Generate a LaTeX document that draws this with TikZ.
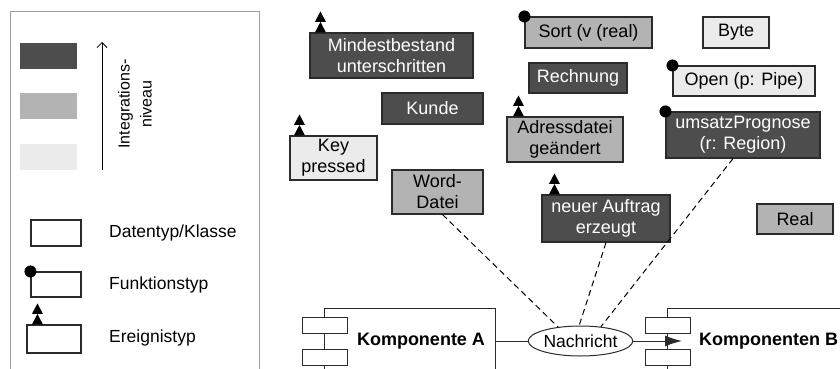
\documentclass[tikz,border=0pt]{standalone}
\usepackage{fontspec}
\setmainfont{Liberation Sans}
\usetikzlibrary{shapes.geometric,arrows.meta,calc}
\definecolor{darkfill}{HTML}{4D4D4D}
\definecolor{midfill}{HTML}{B3B3B3}
\definecolor{lightfill}{HTML}{EBEBEB}
\definecolor{edgecol}{HTML}{2B2B2B}
\definecolor{framecol}{HTML}{A0A0A0}
\begin{document}
\begin{tikzpicture}[x=1pt,y=-1pt,
  box/.style={draw=edgecol, line width=1.1pt, inner sep=0pt, align=center, font=\fontsize{18}{21}\selectfont},
  dark/.style={box, fill=darkfill, text=white},
  mid/.style={box, fill=midfill},
  light/.style={box, fill=lightfill},
  wh/.style={box, fill=white},
  sz/.style 2 args={minimum width=#1pt, minimum height=#2pt},
  legtext/.style={anchor=west, inner sep=0pt, font=\fontsize{17.5}{21}\selectfont},
  comp/.style={draw=edgecol, line width=1pt, inner sep=0pt},
  port/.style={draw=edgecol, line width=1pt, fill=white, inner sep=0pt, minimum width=45pt, minimum height=16pt},
  conn/.style={draw=black, line width=1pt, dash pattern=on 6pt off 4pt},
  evt/.pic={\fill[black] (-5.5,0) -- (5.5,0) -- (0,-10.5) -- cycle;
            \fill[black] (-5.5,-10.5) -- (5.5,-10.5) -- (0,-21) -- cycle;},
]
\useasboundingbox (0,0) rectangle (840,369);

% ---------- legend ----------
\draw[framecol, line width=1pt] (10,380) -- (10,12) -- (259,12) -- (259,380);
\fill[darkfill] (20,43) rectangle (77,69);
\fill[midfill] (20,93) rectangle (77,119);
\fill[lightfill] (20,144) rectangle (77,170);
\coordinate (arrS) at (102,170);
\coordinate (arrE) at (102,42);
\draw[line width=0.8pt, -{Straight Barb[length=5pt,width=10pt]}] (arrS) -- (arrE);
\node[rotate=90, align=center, inner sep=0pt, font=\fontsize{16}{22}\selectfont] (intlab) at (135,104) {Integrations-\\niveau};

\node[wh, sz={50}{26}] (ldt) at (56,233) {};
\node[legtext] (ldtt) at (109,233) {Datentyp/Klasse};
\node[wh, sz={50}{25}] (lfk) at (56,284.5) {};
\fill[black] (lfk.north west) circle (6pt);
\node[legtext] (lfkt) at (109,285) {Funktionstyp};
\node[wh, sz={54}{28}] (lev) at (54,339) {};
\pic at ($(lev.north west)+(11,0)$) {evt};
\node[legtext] (levt) at (109,338) {Ereignistyp};

% ---------- types ----------
\node[dark, sz={163}{45}] (mind) at (391.5,55.5) {Mindestbestand\\unterschritten};
\pic at ($(mind.north west)+(11,0)$) {evt};
\node[dark, sz={101}{31}] (kunde) at (432.5,108.5) {Kunde};
\node[light, sz={87}{44}] (key) at (333.5,158) {Key\\pressed};
\pic at ($(key.north west)+(10,0)$) {evt};
\node[mid, sz={91}{44}] (word) at (437.5,192) {Word-\\Datei};
\node[mid, sz={127}{31}] (sort) at (588.5,32.5) {Sort (v (real)};
\fill[black] (sort.north west) circle (6pt);
\node[dark, sz={98}{30}] (rech) at (578,78) {Rechnung};
\node[mid, sz={116}{45}] (adr) at (565,139.5) {Adressdatei\\geändert};
\pic at ($(adr.north west)+(12,0)$) {evt};
\node[dark, sz={128}{47}] (neu) at (606,218.5) {neuer Auftrag\\erzeugt};
\pic at ($(neu.north west)+(13,0)$) {evt};
\node[light, sz={66}{31}] (byte) at (736,32.5) {Byte};
\node[light, sz={142}{30}] (open) at (744,81) {Open (p: Pipe)};
\fill[black] (open.north west) circle (6pt);
\node[dark, sz={154}{46}] (ums) at (743,135) {umsatzPrognose\\(r: Region)};
\fill[black] (ums.north west) circle (6pt);
\node[mid, sz={76}{30}] (real) at (795,219) {Real};

% ---------- components ----------
\node[comp, minimum width=171pt, minimum height=66pt] (compA) at (409.5,341) {};
\node[port] (pA1) at (324.5,325) {};
\node[port] (pA2) at (324.5,357) {};
\node[inner sep=0pt, font=\fontsize{18}{21}\selectfont\bfseries] (labA) at (421,341) {Komponente A};

\node[comp, minimum width=233pt, minimum height=66pt] (compB) at (783.5,341) {};
\node[port] (pB1) at (667.5,325) {};
\node[port] (pB2) at (667.5,357) {};
\node[anchor=west, inner sep=0pt, font=\fontsize{18}{21}\selectfont\bfseries] (labB) at (699,341) {Komponenten B};

\node[ellipse, draw=edgecol, line width=1pt, fill=white, minimum width=103pt, minimum height=30pt, inner sep=0pt, font=\fontsize{17.5}{21}\selectfont] (msg) at (580.5,341) {Nachricht};

\coordinate (tipB) at (682,341);
\draw[edgecol, line width=1pt] (compA.east) -- (msg.west);
\draw[edgecol, line width=1pt, -{Latex[length=17pt,width=11pt]}] (msg.east) -- (tipB);

% ---------- dashed links ----------
\draw[conn] ($(word.south)+(5,0)$) -- (msg.148);
\draw[conn] (neu.south) -- (msg.95);
\draw[conn] ($(ums.south)+(-10,0)$) -- (msg.35);
\end{tikzpicture}
\end{document}
